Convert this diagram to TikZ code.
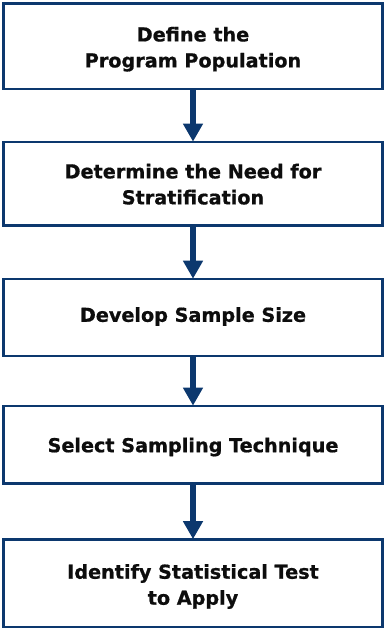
\documentclass[tikz,border=0pt]{standalone}
\usepackage{fontspec}
\setmainfont{DejaVu Sans}[BoldFeatures={FakeBold=0.8}]
\usetikzlibrary{arrows.meta}
\definecolor{navy}{RGB}{12,56,110}
\begin{document}
\begin{tikzpicture}[x=1pt,y=-1pt,
  stepbox/.style={draw=navy, line width=2.6pt, fill=white, rectangle,
    minimum width=379.4pt, inner sep=0pt},
  steptext/.style={inner sep=0pt, align=center,
    font=\fontsize{19.2}{26}\selectfont\bfseries, text=black!95},
  flow/.style={draw=navy, line width=6pt,
    -{Triangle[width=19pt,length=18pt]}, shorten >=-1pt}]
\useasboundingbox (0,0) rectangle (384,628);
% the five boxes
\node[stepbox, minimum height=85.6pt] (b1) at (193,46.2) {};
\node[stepbox, minimum height=83.5pt] (b2) at (193,183.7) {};
\node[stepbox, minimum height=77pt]   (b3) at (193,317.5) {};
\node[stepbox, minimum height=77.5pt] (b4) at (193,444.7) {};
\node[stepbox, minimum height=87.5pt] (b5) at (193,583.2) {};
% their labels
\node[steptext] (t1) at (193,49.2)  {Define the\\Program Population};
\node[steptext] (t2) at (193,184.2) {Determine the Need for\\Stratification};
\node[steptext] (t3) at (193,316.5) {Develop Sample Size};
\node[steptext] (t4) at (193,447.0) {Select Sampling Technique};
\node[steptext] (t5) at (193,586.5) {Identify Statistical Test\\to Apply};
% connectors
\draw[flow] (b1.south) -- (b2.north);
\draw[flow] (b2.south) -- (b3.north);
\draw[flow] (b3.south) -- (b4.north);
\draw[flow] (b4.south) -- (b5.north);
\end{tikzpicture}
\end{document}
